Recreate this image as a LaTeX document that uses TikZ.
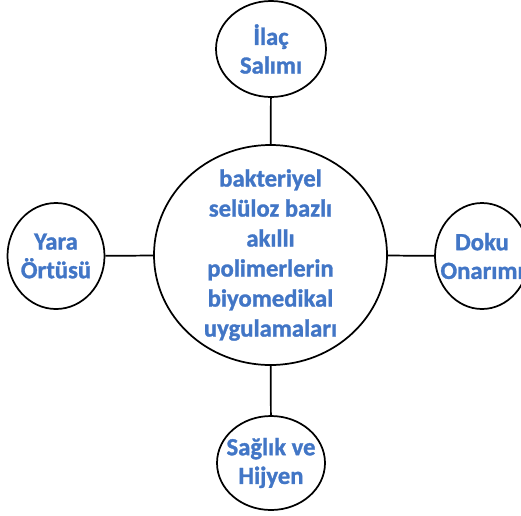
\documentclass[tikz,border=0pt]{standalone}
\usepackage{fontspec}
\setmainfont{Carlito}[BoldFeatures={FakeBold=1.2}]
\usepackage{tikz}
\usetikzlibrary{shapes.geometric}
\definecolor{textblue}{RGB}{66,118,198}

\tikzset{
  rund/.style={draw, ellipse, line width=1.3pt, inner sep=0pt},
  yazi/.style={align=center, text=textblue, inner sep=0pt,
    font=\bfseries\fontsize{18.5}{21.5}\selectfont},
  yaziorta/.style={yazi, font=\bfseries\fontsize{18.5}{22.5}\selectfont}
}

\begin{document}
\begin{tikzpicture}[x=0.75pt,y=-0.75pt]
\useasboundingbox (0,0) rectangle (521,515);

\node (merkez) [rund, minimum width=174.75pt, minimum height=165pt,
  label={[yaziorta]center:bakteriyel\\selüloz bazlı\\akıllı\\polimerlerin\\biyomedikal\\uygulamaları}] at (270.5,255) {};
\node (ilac) [rund, minimum width=82.5pt, minimum height=72pt,
  label={[yazi]center:İlaç\\Salımı}] at (271,49) {};
\node (yara) [rund, minimum width=72.75pt, minimum height=79.5pt,
  label={[yazi]center:Yara\\Örtüsü}] at (56,256) {};
\node (doku) [rund, minimum width=70.5pt, minimum height=79.5pt,
  label={[yazi]center:Doku\\Onarımı}] at (482,256) {};
\node (saglik) [rund, minimum width=81pt, minimum height=70.5pt,
  label={[yazi]center:Sağlık ve\\Hijyen}] at (271,463) {};

\draw[line width=1.3pt] (ilac) -- (merkez);
\draw[line width=1.3pt] (yara) -- (merkez);
\draw[line width=1.3pt] (merkez) -- (doku);
\draw[line width=1.3pt] (merkez) -- (saglik);

\end{tikzpicture}
\end{document}
